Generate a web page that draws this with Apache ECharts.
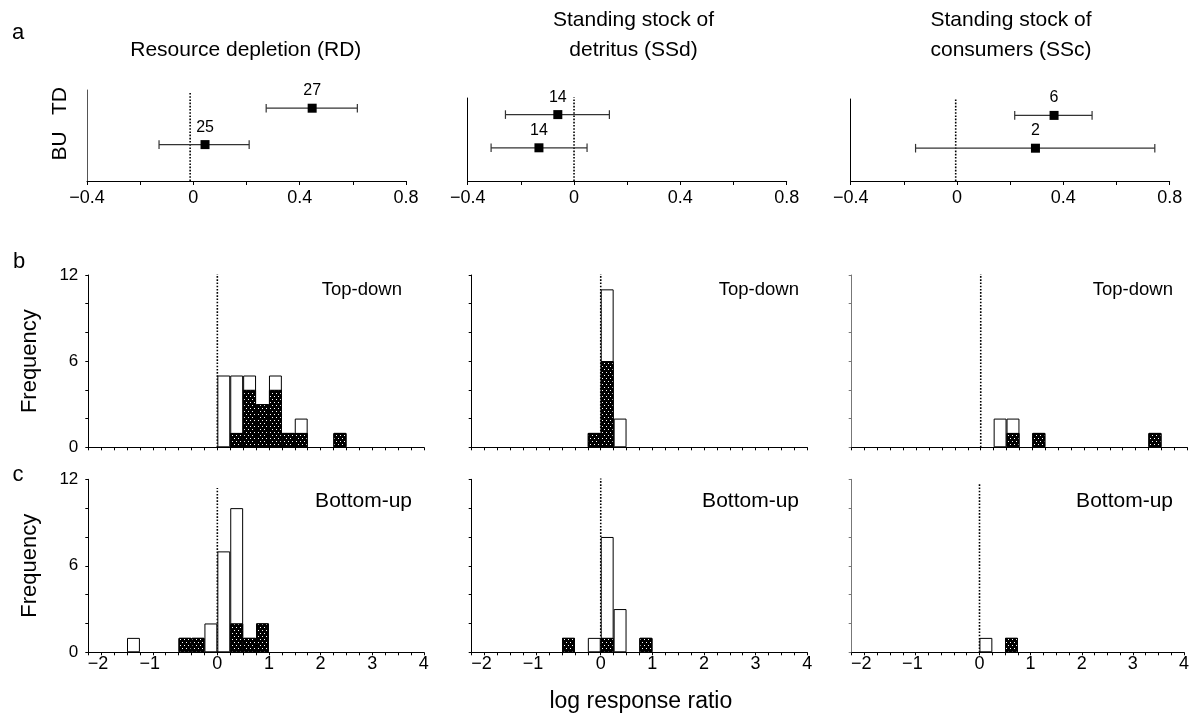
<!DOCTYPE html>
<html><head><meta charset="utf-8">
<script src="https://cdn.jsdelivr.net/npm/echarts@6/dist/echarts.min.js"></script>
<style>html,body{margin:0;padding:0;background:#fff}#c{width:1192px;height:713px}</style>
</head><body><div id="c"></div>
<script>
// ---------- Panel a: mean log response ratio with 95% CI ----------
const panelTitles = ['Resource depletion (RD)', 'Standing stock of\ndetritus (SSd)', 'Standing stock of\nconsumers (SSc)'];
const groupLabels = ['BU', 'TD'];
const tdMean = [0.447, -0.061, 0.365];
const tdLow  = [0.274, -0.258, 0.217];
const tdHigh = [0.617, 0.133, 0.508];
const tdN    = [27, 14, 6];
const buMean = [0.044, -0.132, 0.295];
const buLow  = [-0.129, -0.312, -0.156];
const buHigh = [0.210, 0.049, 0.744];
const buN    = [25, 14, 2];
const effectTickStep = 0.2;
const effectLabelStep = 0.4;

// ---------- Panels b, c: histograms (bin start, total count, filled count) ----------
const binWidth = 0.25;
const tdRD_bins   = [0, 0.25, 0.5, 0.75, 1.0, 1.25, 1.5, 2.25];
const tdRD_total  = [5, 5, 5, 3, 5, 1, 2, 1];
const tdRD_filled = [0, 1, 4, 3, 4, 1, 1, 1];
const tdSSd_bins   = [-0.25, 0, 0.25];
const tdSSd_total  = [1, 11, 2];
const tdSSd_filled = [1, 6, 0];
const tdSSc_bins   = [0.25, 0.5, 1.0, 3.25];
const tdSSc_total  = [2, 2, 1, 1];
const tdSSc_filled = [0, 1, 1, 1];
const buRD_bins   = [-1.75, -0.75, -0.5, -0.25, 0, 0.25, 0.5, 0.75];
const buRD_total  = [1, 1, 1, 2, 7, 10, 1, 2];
const buRD_filled = [0, 1, 1, 0, 0, 2, 1, 2];
const buSSd_bins   = [-0.75, -0.25, 0, 0.25, 0.75];
const buSSd_total  = [1, 1, 8, 3, 1];
const buSSd_filled = [1, 0, 1, 0, 1];
const buSSc_bins   = [0, 0.5];
const buSSc_total  = [1, 1];
const buSSc_filled = [0, 1];
const freqLabelStep = 6;
const rowLabels = ['Top-down', 'Bottom-up'];

// reference (zero) line extents
const aZeroX = [-0.012, 0, -0.005];
const aZeroTop = [0.98, 1.04, 1.05];
const histZeroTop = [[12.3, 12.2, 12.15], [11.4, 12.3, 11.75]];

// ---------- Layout ----------
const FONT = '"Liberation Sans", Arial, Helvetica, sans-serif';
const aGrids = [
  {left: 87, top: 90, width: 319, height: 91},
  {left: 467.7, top: 98, width: 319, height: 83},
  {left: 850.7, top: 99, width: 319, height: 82}
];
const histLefts = [88.3, 471.7, 851.7];
const histW = 335.5;
const histRows = [{top: 275, height: 172.3}, {top: 479.3, height: 173}];
const groupY = [0.4, 0.8];

const grid = [], xAxis = [], yAxis = [], series = [], graphic = [];

function fmtEffect(v) {
  const k = v / effectLabelStep;
  if (Math.abs(k - Math.round(k)) > 1e-6) return '';
  if (Math.abs(v) < 1e-9) return '0';
  return (v < 0 ? '\u2212' : '') + Math.abs(v).toFixed(1);
}

function renderErr(params, api) {
  const lo = api.coord([api.value(0), api.value(2)]);
  const hi = api.coord([api.value(1), api.value(2)]);
  const s = {stroke: '#333', lineWidth: 1.2};
  return {type: 'group', children: [
    {type: 'line', shape: {x1: lo[0], y1: lo[1], x2: hi[0], y2: hi[1]}, style: s},
    {type: 'line', shape: {x1: lo[0], y1: lo[1] - 4.3, x2: lo[0], y2: lo[1] + 4.3}, style: s},
    {type: 'line', shape: {x1: hi[0], y1: hi[1] - 4.3, x2: hi[0], y2: hi[1] + 4.3}, style: s}
  ]};
}

for (let i = 0; i < 3; i++) {
  grid.push(aGrids[i]);
  xAxis.push({
    gridIndex: i, type: 'value', min: -0.4, max: 0.8, interval: effectTickStep,
    axisLine: {onZero: false, lineStyle: {color: '#000', width: 1}},
    axisTick: {length: 4, lineStyle: {color: '#000'}},
    axisLabel: {fontSize: 18, color: '#000', margin: 8, fontFamily: FONT, formatter: fmtEffect},
    splitLine: {show: false}
  });
  yAxis.push({
    gridIndex: i, type: 'value', min: 0, max: 1,
    axisLine: {show: true, onZero: false, lineStyle: {color: i === 0 ? '#555' : '#000'}},
    axisTick: {show: false}, axisLabel: {show: false}, splitLine: {show: false}
  });
  series.push({
    type: 'line', xAxisIndex: i, yAxisIndex: i, z: 1, silent: true,
    data: [[aZeroX[i], 0], [aZeroX[i], aZeroTop[i]]],
    symbol: 'none', lineStyle: {type: 'dotted', color: '#000', width: 1.6}
  });
  series.push({
    type: 'custom', xAxisIndex: i, yAxisIndex: i, z: 2, silent: true,
    renderItem: renderErr, encode: {x: [0, 1], y: 2},
    data: [[buLow[i], buHigh[i], groupY[0]], [tdLow[i], tdHigh[i], groupY[1]]]
  });
  series.push({
    type: 'scatter', xAxisIndex: i, yAxisIndex: i, z: 3, silent: true,
    symbol: 'rect', symbolSize: 9, itemStyle: {color: '#000', opacity: 1},
    label: {show: true, position: 'top', distance: 5, color: '#000', fontSize: 16, fontFamily: FONT,
      formatter: p => String(p.value[2])},
    data: [[buMean[i], groupY[0], buN[i]], [tdMean[i], groupY[1], tdN[i]]]
  });
}

const histData = [
  [[tdRD_bins, tdRD_total, tdRD_filled], [tdSSd_bins, tdSSd_total, tdSSd_filled], [tdSSc_bins, tdSSc_total, tdSSc_filled]],
  [[buRD_bins, buRD_total, buRD_filled], [buSSd_bins, buSSd_total, buSSd_filled], [buSSc_bins, buSSc_total, buSSc_filled]]
];

const decal = {
  symbol: 'rect', symbolSize: 1, color: '#ffffff',
  dashArrayX: [[1, 3], [0, 2, 1, 1]], dashArrayY: [1, 2], rotation: 0
};

function fmtLrr(v) {
  if (Math.abs(v - Math.round(v)) > 1e-6) return '';
  const r = Math.round(v);
  return r < 0 ? '{n|\u2212' + (-r) + '}' : String(r);
}

for (let r = 0; r < 2; r++) {
  for (let c = 0; c < 3; c++) {
    const gi = grid.length;
    grid.push({left: histLefts[c], top: histRows[r].top, width: histW, height: histRows[r].height});
    xAxis.push({
      gridIndex: gi, type: 'value', min: -2.5, max: 4, interval: binWidth,
      axisLine: {onZero: false, lineStyle: {color: '#000', width: 1}},
      axisTick: {length: 3, lineStyle: {color: '#000'}},
      axisLabel: {show: r === 1, fontSize: 18, color: '#000', margin: 3, fontFamily: FONT, formatter: fmtLrr,
        rich: {n: {fontSize: 18, color: '#000', fontFamily: FONT, padding: [0, 32, 0, 0]}}},
      splitLine: {show: false}
    });
    yAxis.push({
      gridIndex: gi, type: 'value', min: 0, max: 12, interval: 2,
      name: c === 0 ? 'Frequency' : '', nameLocation: 'middle', nameGap: 47,
      nameTextStyle: {fontSize: 22, color: '#000', fontFamily: FONT},
      axisLine: {show: true, onZero: false, lineStyle: {color: c === 2 ? '#777' : '#000'}},
      axisTick: {show: true, length: 3, lineStyle: {color: c === 2 ? '#777' : '#000'}},
      axisLabel: {show: c === 0, fontSize: 17, color: '#000', margin: 10, fontFamily: FONT,
        formatter: v => (v % freqLabelStep === 0 ? String(v) : '')},
      splitLine: {show: false}
    });
    const [bins, total, filled] = histData[r][c];
    const barW = histW / 6.5 * binWidth;
    series.push({
      type: 'line', xAxisIndex: gi, yAxisIndex: gi, z: 1, silent: true,
      data: [[0, 0], [0, histZeroTop[r][c]]],
      symbol: 'none', lineStyle: {type: 'dotted', color: '#000', width: 1.6}
    });
    series.push({
      type: 'bar', xAxisIndex: gi, yAxisIndex: gi, z: 2, silent: true, barWidth: barW,
      itemStyle: {color: '#fff', borderColor: '#000', borderWidth: 1},
      data: bins.map((b, k) => [b + binWidth / 2, total[k]])
    });
    series.push({
      type: 'bar', xAxisIndex: gi, yAxisIndex: gi, z: 3, silent: true, barWidth: barW, barGap: '-100%',
      itemStyle: {color: '#000', borderColor: '#000', borderWidth: 1, decal: decal},
      data: bins.map((b, k) => [b + binWidth / 2, filled[k]]).filter(d => d[1] > 0)
    });
  }
}

// ---------- Text ----------
const titleCenters = [245.8, 633.5, 1011];
panelTitles.forEach((t, i) => {
  const lines = t.split('\n');
  lines.forEach((ln, k) => {
    graphic.push({type: 'text', x: titleCenters[i], y: 50 - (lines.length - 1 - k) * 30,
      style: {text: ln, fontSize: 21, fontFamily: FONT, fill: '#000', textAlign: 'center', textVerticalAlign: 'middle'}});
  });
});
const letters = [['a', 18, 33], ['b', 19, 262], ['c', 18, 475]];
letters.forEach(l => graphic.push({type: 'text', x: l[1], y: l[2],
  style: {text: l[0], fontSize: 22, fontFamily: FONT, fill: '#000', textAlign: 'center', textVerticalAlign: 'middle'}}));
const groupLabelY = [145.8, 101];
groupLabels.forEach((g, k) => graphic.push({type: 'text', x: 60, y: groupLabelY[k], rotation: Math.PI / 2,
  style: {text: g, fontSize: 21, fontFamily: FONT, fill: '#000', textAlign: 'center', textVerticalAlign: 'middle'}}));
const rowLabelRight = [[402, 799, 1173], [412, 799, 1173]];
const rowLabelY = [[290, 290, 290], [500.8, 501.7, 500.8]];
const rowLabelSize = [18.5, 21];
for (let r = 0; r < 2; r++) for (let c = 0; c < 3; c++) {
  graphic.push({type: 'text', x: rowLabelRight[r][c], y: rowLabelY[r][c],
    style: {text: rowLabels[r], fontSize: rowLabelSize[r], fontFamily: FONT, fill: '#000', textAlign: 'right', textVerticalAlign: 'middle'}});
}
graphic.push({type: 'text', x: 640.8, y: 702,
  style: {text: 'log response ratio', fontSize: 23, fontFamily: FONT, fill: '#000', textAlign: 'center', textVerticalAlign: 'middle'}});

const chart = echarts.init(document.getElementById('c'));
chart.setOption({
  animation: false,
  backgroundColor: '#fff',
  grid: grid, xAxis: xAxis, yAxis: yAxis, series: series, graphic: graphic
});
</script>
</body></html>
